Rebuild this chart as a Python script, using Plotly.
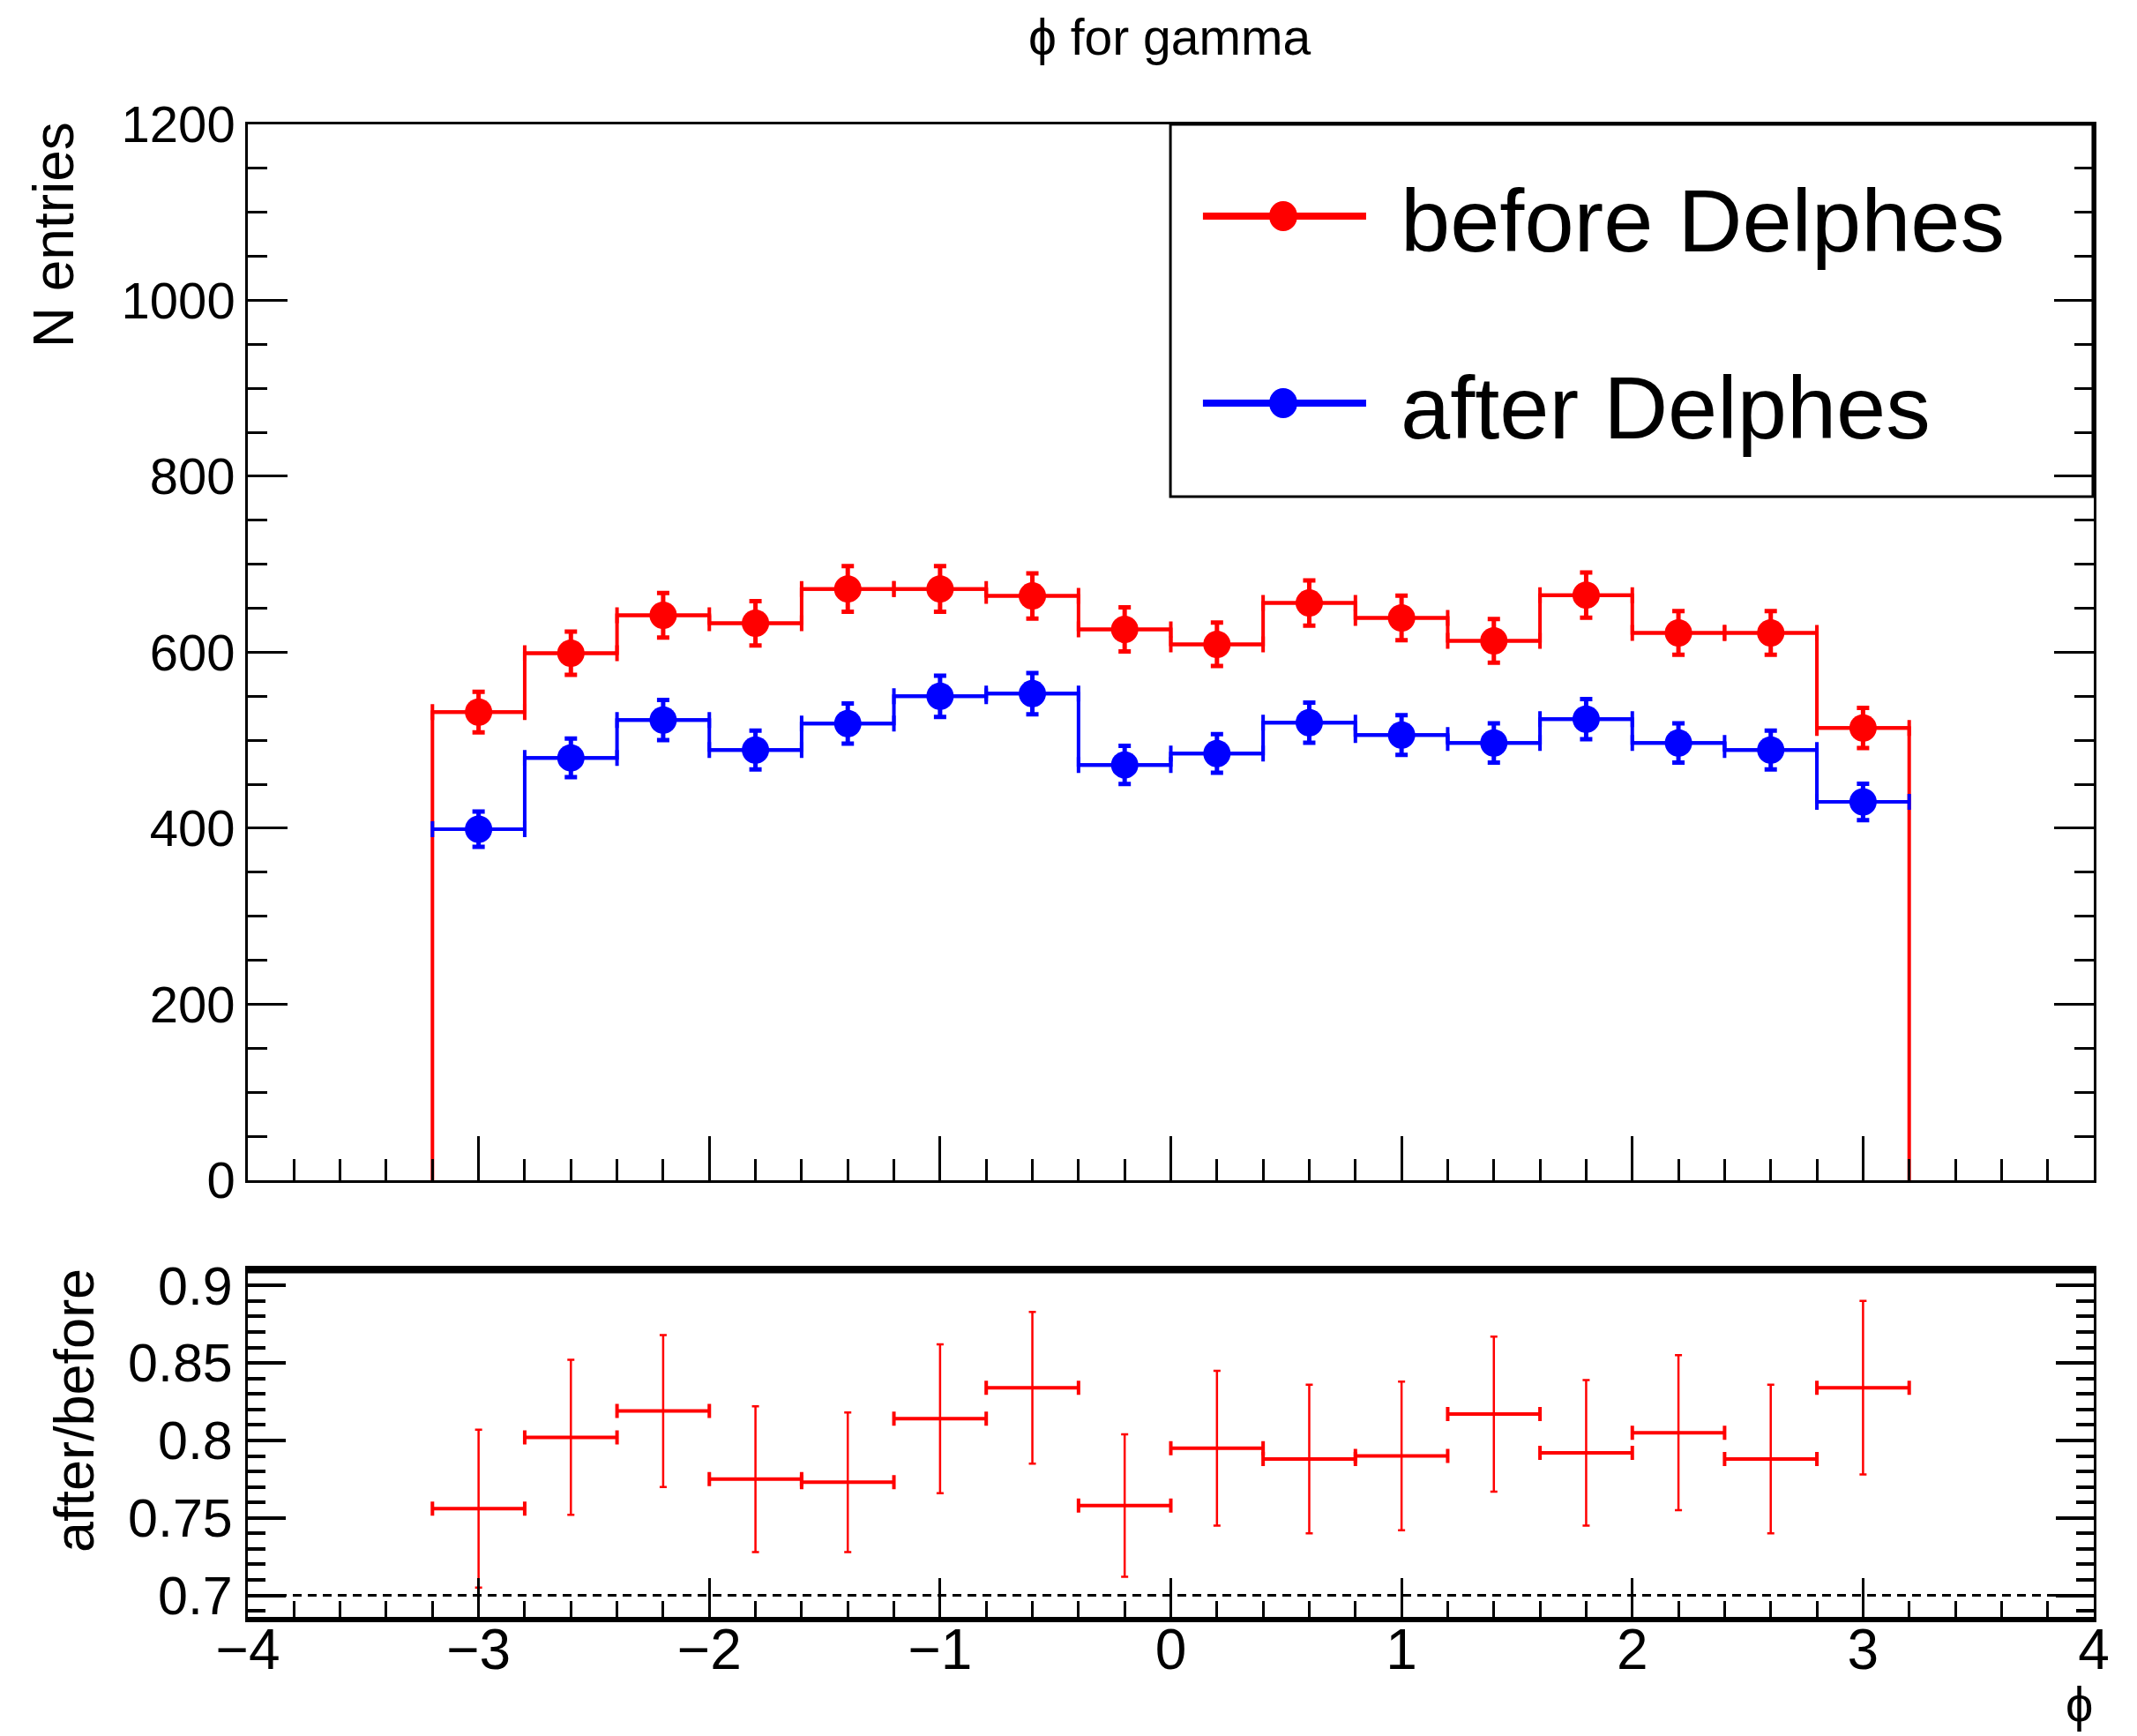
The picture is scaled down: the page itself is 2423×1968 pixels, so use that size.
import plotly.graph_objects as go

# ---------------- data ----------------
phi_centers = [-3.0, -2.6, -2.2, -1.8, -1.4, -1.0, -0.6, -0.2,
               0.2, 0.6, 1.0, 1.4, 1.8, 2.2, 2.6, 3.0]
bin_half_width = 0.2

before_counts = [532, 599, 642, 633, 672, 672, 664, 626,
                 609, 656, 639, 613, 665, 622, 622, 514]
before_err = [23.1, 24.5, 25.3, 25.2, 25.9, 25.9, 25.8, 25.0,
              24.7, 25.6, 25.3, 24.8, 25.8, 24.9, 24.9, 22.7]

after_counts = [399, 480, 523, 489, 519, 550, 553, 472,
                485, 520, 506, 497, 524, 497, 489, 430]
after_err = [20.0, 21.9, 22.9, 22.1, 22.8, 23.5, 23.5, 21.7,
             22.0, 22.8, 22.5, 22.3, 22.9, 22.3, 22.1, 20.7]

ratio_vals = [0.756, 0.802, 0.819, 0.775, 0.773, 0.814, 0.834, 0.758,
              0.795, 0.788, 0.790, 0.817, 0.792, 0.805, 0.788, 0.834]
ratio_err = [0.051, 0.050, 0.049, 0.047, 0.045, 0.048, 0.049, 0.046,
             0.050, 0.048, 0.048, 0.050, 0.047, 0.050, 0.048, 0.056]

ratio_ref = 0.7
top_y_ticks = [0, 200, 400, 600, 800, 1000, 1200]
ratio_ticks = [0.7, 0.75, 0.8, 0.85, 0.9]
x_ticks = [-4, -3, -2, -1, 0, 1, 2, 3, 4]

RED = "#ff0000"
BLUE = "#0000ff"
FONT = "Liberation Sans, Arial, sans-serif"


def step_xy(centers, vals, hw, drop_to_zero):
    xs, ys = [], []
    if drop_to_zero:
        xs.append(centers[0] - hw)
        ys.append(0)
    for c, v in zip(centers, vals):
        xs += [c - hw, c + hw]
        ys += [v, v]
    if drop_to_zero:
        xs.append(centers[-1] + hw)
        ys.append(0)
    return xs, ys


fig = go.Figure()

# before Delphes (red)
sx, sy = step_xy(phi_centers, before_counts, bin_half_width, True)
fig.add_trace(go.Scatter(x=sx, y=sy, mode="lines", line=dict(color=RED, width=4),
                         xaxis="x", yaxis="y", hoverinfo="skip"))
fig.add_trace(go.Scatter(
    x=phi_centers, y=before_counts, mode="markers",
    marker=dict(color=RED, size=31, symbol="circle"),
    error_x=dict(type="constant", value=bin_half_width, color=RED, thickness=4, width=9),
    error_y=dict(type="data", array=before_err, color=RED, thickness=5, width=7),
    xaxis="x", yaxis="y", name="before Delphes"))

# after Delphes (blue)
sx, sy = step_xy(phi_centers, after_counts, bin_half_width, False)
fig.add_trace(go.Scatter(x=sx, y=sy, mode="lines", line=dict(color=BLUE, width=4),
                         xaxis="x", yaxis="y", hoverinfo="skip"))
fig.add_trace(go.Scatter(
    x=phi_centers, y=after_counts, mode="markers",
    marker=dict(color=BLUE, size=31, symbol="circle"),
    error_x=dict(type="constant", value=bin_half_width, color=BLUE, thickness=4, width=9),
    error_y=dict(type="data", array=after_err, color=BLUE, thickness=5, width=7),
    xaxis="x", yaxis="y", name="after Delphes"))

# ratio panel
fig.add_trace(go.Scatter(
    x=phi_centers, y=ratio_vals, mode="markers",
    marker=dict(color=RED, size=1, opacity=0),
    error_x=dict(type="constant", value=bin_half_width, color=RED, thickness=4, width=8),
    error_y=dict(type="data", array=ratio_err, color=RED, thickness=2.5, width=4),
    xaxis="x2", yaxis="y2", name="after/before"))

common_x = dict(range=[-4, 4], tickmode="array", tickvals=x_ticks,
                ticks="inside", showgrid=False, zeroline=False,
                showline=True, linecolor="black", mirror=True,
                tickcolor="black")

# the page body has an 8px margin; margins compensate so the frame sits where the reference has it
fig.update_layout(
    width=2423, height=1968, autosize=False,
    margin=dict(l=273, r=57, t=133, b=143),
    paper_bgcolor="white", plot_bgcolor="white",
    showlegend=False,
    font=dict(family=FONT, color="black"),
    xaxis=dict(**common_x, domain=[0, 1], anchor="y", showticklabels=False,
               ticklen=50, tickwidth=2.5, linewidth=2.5,
               minor=dict(dtick=0.2, tick0=0, ticks="inside", ticklen=24,
                          tickwidth=2.5, tickcolor="black", showgrid=False)),
    yaxis=dict(domain=[0.2926, 1], anchor="x", range=[0, 1200],
               tickmode="array", tickvals=top_y_ticks,
               ticks="inside", ticklen=45, tickwidth=2.5, tickcolor="black",
               showline=True, linewidth=2.5, linecolor="black", mirror="ticks",
               showgrid=False, zeroline=False,
               tickfont=dict(size=58, family=FONT), ticklabelstandoff=0,
               minor=dict(dtick=50, tick0=0, ticks="inside", ticklen=22,
                          tickwidth=2.5, tickcolor="black", showgrid=False)),
    xaxis2=dict(**common_x, domain=[0, 1], anchor="y2",
                ticklen=44, tickwidth=2.5, linewidth=6,
                tickfont=dict(size=64, family=FONT), ticklabelstandoff=-24,
                minor=dict(dtick=0.2, tick0=0, ticks="inside", ticklen=18,
                           tickwidth=2.5, tickcolor="black", showgrid=False)),
    yaxis2=dict(domain=[0, 0.2317], anchor="x2", range=[0.6861, 0.9093],
                tickmode="array", tickvals=ratio_ticks,
                ticks="inside", ticklen=43, tickwidth=3.5, tickcolor="black",
                showline=True, linewidth=3, linecolor="black", mirror="ticks",
                showgrid=False, zeroline=False,
                tickfont=dict(size=61, family=FONT), ticklabelstandoff=2,
                minor=dict(dtick=0.01, tick0=0.7, ticks="inside", ticklen=20,
                           tickwidth=3.5, tickcolor="black", showgrid=False)),
)

shapes = []
# dashed reference line in ratio panel
shapes.append(dict(type="line", xref="x2 domain", yref="y2", x0=0, x1=1,
                   y0=ratio_ref, y1=ratio_ref,
                   line=dict(color="black", width=3, dash="10px,7px")))
# thicker top border of the ratio panel
shapes.append(dict(type="line", xref="x2 domain", yref="y2 domain", x0=0, x1=1,
                   y0=1, y1=1, line=dict(color="black", width=5)))
# legend box
shapes.append(dict(type="rect", xref="paper", yref="paper",
                   x0=0.4998, x1=0.9995, y0=0.7506, y1=1.0,
                   line=dict(color="black", width=3), fillcolor="rgba(0,0,0,0)"))
legend_rows = [("before Delphes", RED, 0.9385), ("after Delphes", BLUE, 0.8132)]
annotations = []
for label, col, yy in legend_rows:
    shapes.append(dict(type="line", xref="paper", yref="paper",
                       x0=0.5174, x1=0.6058, y0=yy, y1=yy,
                       line=dict(color=col, width=8)))
    shapes.append(dict(type="circle", xref="paper", yref="paper",
                       xsizemode="pixel", ysizemode="pixel",
                       xanchor=0.5609, yanchor=yy, x0=-16, x1=16, y0=-17, y1=17,
                       fillcolor=col, line=dict(width=0)))
    annotations.append(dict(text=label, xref="paper", yref="paper",
                            x=0.6235, y=yy - 0.003, xanchor="left", yanchor="middle",
                            showarrow=False,
                            font=dict(size=101, family=FONT, color="black")))

# title and axis titles
annotations.append(dict(text="\u03d5 for gamma", xref="paper", yref="paper",
                        x=0.4993, y=1.0585, xanchor="center", yanchor="middle",
                        showarrow=False, font=dict(size=57, family=FONT)))
annotations.append(dict(text="N entries", xref="paper", yref="paper",
                        x=-0.1051, y=0.926, xanchor="center", yanchor="middle",
                        textangle=-90, showarrow=False,
                        font=dict(size=64, family=FONT)))
annotations.append(dict(text="after/before", xref="paper", yref="paper",
                        x=-0.0941, y=0.1383, xanchor="center", yanchor="middle",
                        textangle=-90, showarrow=False,
                        font=dict(size=63, family=FONT)))
annotations.append(dict(text="\u03d5", xref="paper", yref="paper",
                        x=0.9919, y=-0.0585, xanchor="center", yanchor="middle",
                        showarrow=False, font=dict(size=56, family=FONT)))

fig.update_layout(shapes=shapes, annotations=annotations)

fig.write_html("out.html")
